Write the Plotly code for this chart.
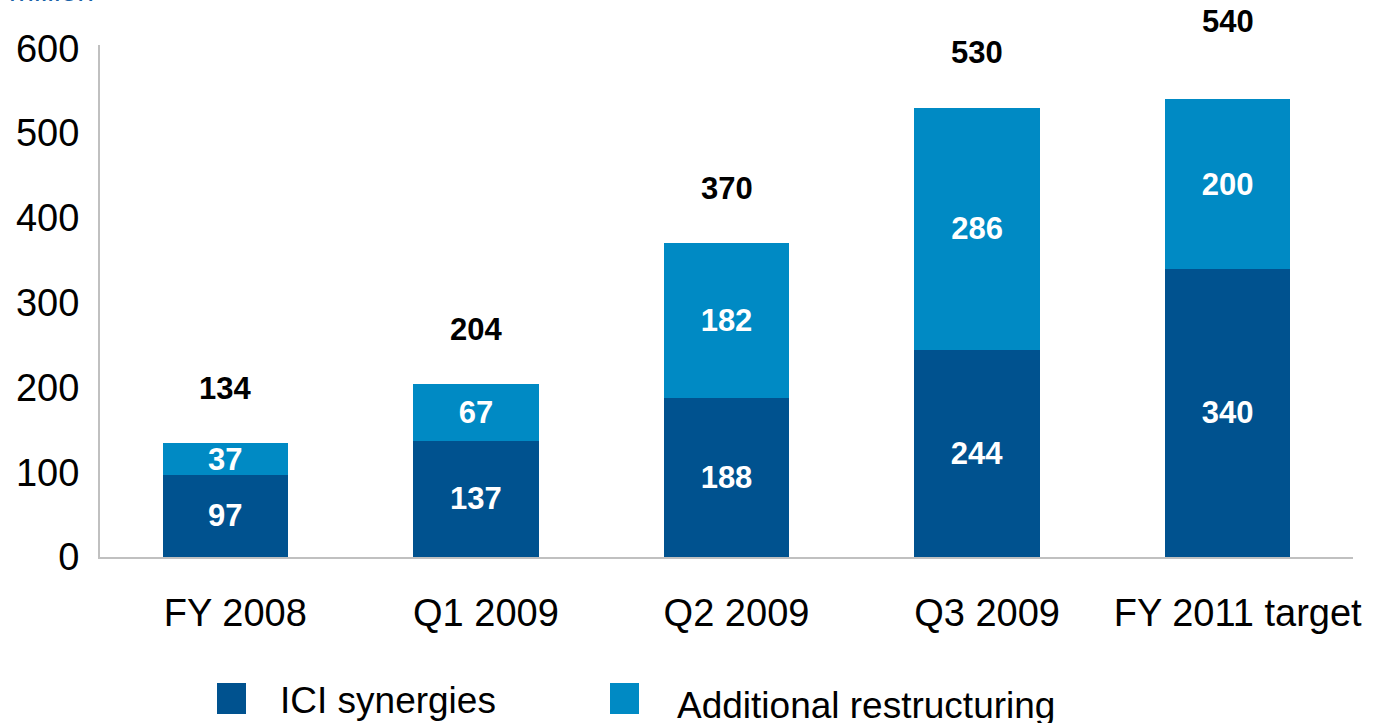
import plotly.graph_objects as go

categories = ["FY 2008", "Q1 2009", "Q2 2009", "Q3 2009", "FY 2011 target"]
ici_synergies = [97, 137, 188, 244, 340]
additional_restructuring = [37, 67, 182, 286, 200]
totals = [134, 204, 370, 530, 540]
series_names = ["ICI synergies", "Additional restructuring"]
unit_label = "million"

DARK_BLUE = "#00528f"
LIGHT_BLUE = "#008ac4"
FONT = "Liberation Sans, Arial, sans-serif"

fig = go.Figure()

for name, values, color in [
    (series_names[0], ici_synergies, DARK_BLUE),
    (series_names[1], additional_restructuring, LIGHT_BLUE),
]:
    fig.add_trace(
        go.Bar(
            name=name,
            x=categories,
            y=values,
            marker=dict(color=color, line=dict(width=0)),
            text=values,
            textposition="inside",
            insidetextanchor="middle",
            textangle=0,
            constraintext="none",
            textfont=dict(family=FONT, size=31, color="white", weight="bold"),
            showlegend=False,
            hoverinfo="skip",
        )
    )

# totals above the stacks
for cat, total in zip(categories, totals):
    fig.add_annotation(
        x=cat,
        y=total,
        text=f"<b>{total}</b>",
        showarrow=False,
        yanchor="middle",
        yshift=78 if cat == "FY 2011 target" else 55,
        font=dict(family=FONT, size=31, color="black"),
    )

# unit label, cut off at the top edge
fig.add_annotation(
    xref="paper",
    yref="paper",
    x=-0.0745,
    y=1,
    xanchor="left",
    yanchor="bottom",
    yshift=36,
    text=unit_label,
    showarrow=False,
    font=dict(family=FONT, size=30, color="#1a62a8"),
)

# legend drawn by hand so the swatches match the size of the text
for i, (name, color) in enumerate(zip(series_names, [DARK_BLUE, LIGHT_BLUE])):
    x0 = 117 + i * 393
    fig.add_shape(
        type="rect",
        xref="paper",
        yref="paper",
        x0=x0 / 1253,
        x1=(x0 + 29) / 1253,
        y0=-(683 - 557) / 512,
        y1=-(714 - 557) / 512,
        fillcolor=color,
        line=dict(width=0),
    )
    fig.add_annotation(
        xref="paper",
        yref="paper",
        x=(x0 + 61 + i * 4) / 1253,
        y=-(700 - 557 + i * 5) / 512,
        xanchor="left",
        yanchor="middle",
        text=name,
        showarrow=False,
        font=dict(family=FONT, size=37, color="black"),
    )

fig.update_layout(
    barmode="stack",
    bargap=0.5,
    width=1381,
    height=723,
    margin=dict(l=100, r=28, t=45, b=166),
    paper_bgcolor="white",
    plot_bgcolor="white",
    font=dict(family=FONT, size=38, color="black"),
    showlegend=False,
)
fig.update_xaxes(
    showline=True,
    linecolor="#c0c0c0",
    linewidth=2,
    showgrid=False,
    ticks="",
    ticklabelstandoff=21,
    ticklabelshift=10,
    tickfont=dict(size=38),
)
fig.update_yaxes(
    range=[0, 604],
    tickvals=[0, 100, 200, 300, 400, 500, 600],
    showline=True,
    linecolor="#c0c0c0",
    linewidth=2,
    showgrid=False,
    zeroline=False,
    ticks="",
    ticklabelstandoff=11,
    tickfont=dict(size=38),
)

fig.write_html(
    "out.html",
    config={"displayModeBar": False},
    post_script="document.body.style.margin = '0';",
)
